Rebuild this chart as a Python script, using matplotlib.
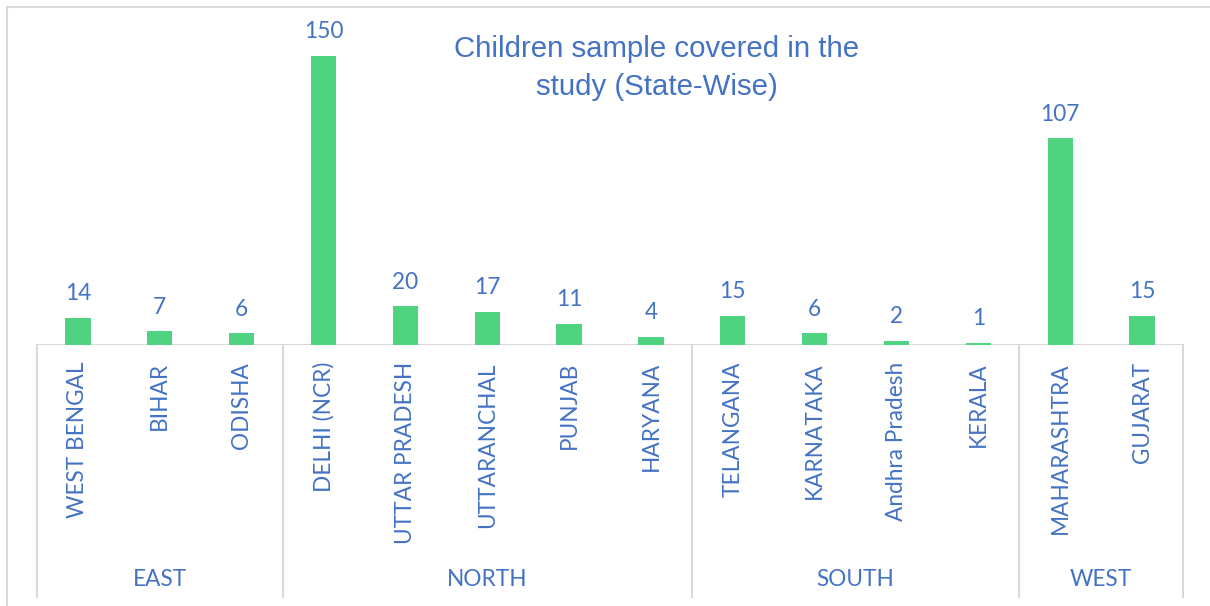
import matplotlib
matplotlib.use("Agg")
import matplotlib.pyplot as plt
from matplotlib.patches import Rectangle
from matplotlib.transforms import blended_transform_factory

states = ["WEST BENGAL", "BIHAR", "ODISHA", "DELHI (NCR)", "UTTAR PRADESH",
          "UTTARANCHAL", "PUNJAB", "HARYANA", "TELANGANA", "KARNATAKA",
          "Andhra Pradesh", "KERALA", "MAHARASHTRA", "GUJARAT"]
values = [14, 7, 6, 150, 20, 17, 11, 4, 15, 6, 2, 1, 107, 15]
regions = ["EAST", "NORTH", "SOUTH", "WEST"]
region_sizes = [3, 5, 4, 2]
title = "Children sample covered in the\nstudy (State-Wise)"

W, H = 1210, 606
BAR = "#4FD381"
TXT = "#4472C4"
GRID = "#D9D9D9"
LBLFONT = "Lato"
FS = 16.3

fig = plt.figure(figsize=(W / 100, H / 100), dpi=100)

# outer frame
fig.patches.append(Rectangle((7 / W, -0.01), 1.05, 1 - 7 / H + 0.01,
                             transform=fig.transFigure, fill=False,
                             edgecolor=GRID, linewidth=1.5))

ax_left, ax_right = 37, 1183
ax_bottom, ax_top = 345, 20
ax = fig.add_axes([ax_left / W, 1 - ax_bottom / H,
                   (ax_right - ax_left) / W, (ax_bottom - ax_top) / H])
ax_h = ax_bottom - ax_top
px_per_unit = (345 - 55.5) / 150
ax.set_ylim(0, ax_h / px_per_unit)
ax.set_xlim(-0.5, len(states) - 0.5)

x = list(range(len(states)))
bars = ax.bar(x, values, width=0.31, color=BAR, zorder=2)
for xi, v in zip(x, values):
    ax.annotate(str(v), (xi, v), xytext=(0, 10), textcoords="offset points",
                ha="center", va="bottom", color=TXT, fontsize=FS,
                family=LBLFONT)

for s in ax.spines.values():
    s.set_visible(False)
ax.set_xticks([])
ax.set_yticks([])
ax.axhline(0, color=GRID, lw=1.5, zorder=1)

trans = blended_transform_factory(ax.transData, ax.transAxes)
line_bottom = -(597 - ax_bottom) / ax_h

# category labels
for xi, s in zip(x, states):
    ax.text(xi, -(362 - ax_bottom) / ax_h, s, rotation=90, ha="center",
            va="top", color=TXT, fontsize=FS, family=LBLFONT,
            transform=trans)

# group separators and labels
start = 0
bounds = [start]
for n in region_sizes:
    start += n
    bounds.append(start)
for b in bounds:
    ax.plot([b - 0.5, b - 0.5], [0, line_bottom], color=GRID, lw=1.5,
            transform=trans, clip_on=False)
for r, a, b in zip(regions, bounds[:-1], bounds[1:]):
    ax.text((a + b - 1) / 2, -(580 - ax_bottom) / ax_h, r, ha="center",
            va="center", color=TXT, fontsize=FS, family=LBLFONT,
            transform=trans)

fig.text(657 / W, 1 - 68 / H, title, ha="center", va="center",
         multialignment="center", color=TXT, fontsize=21.2,
         family="Liberation Sans", linespacing=1.45)

fig.savefig("out.png", dpi=100)
